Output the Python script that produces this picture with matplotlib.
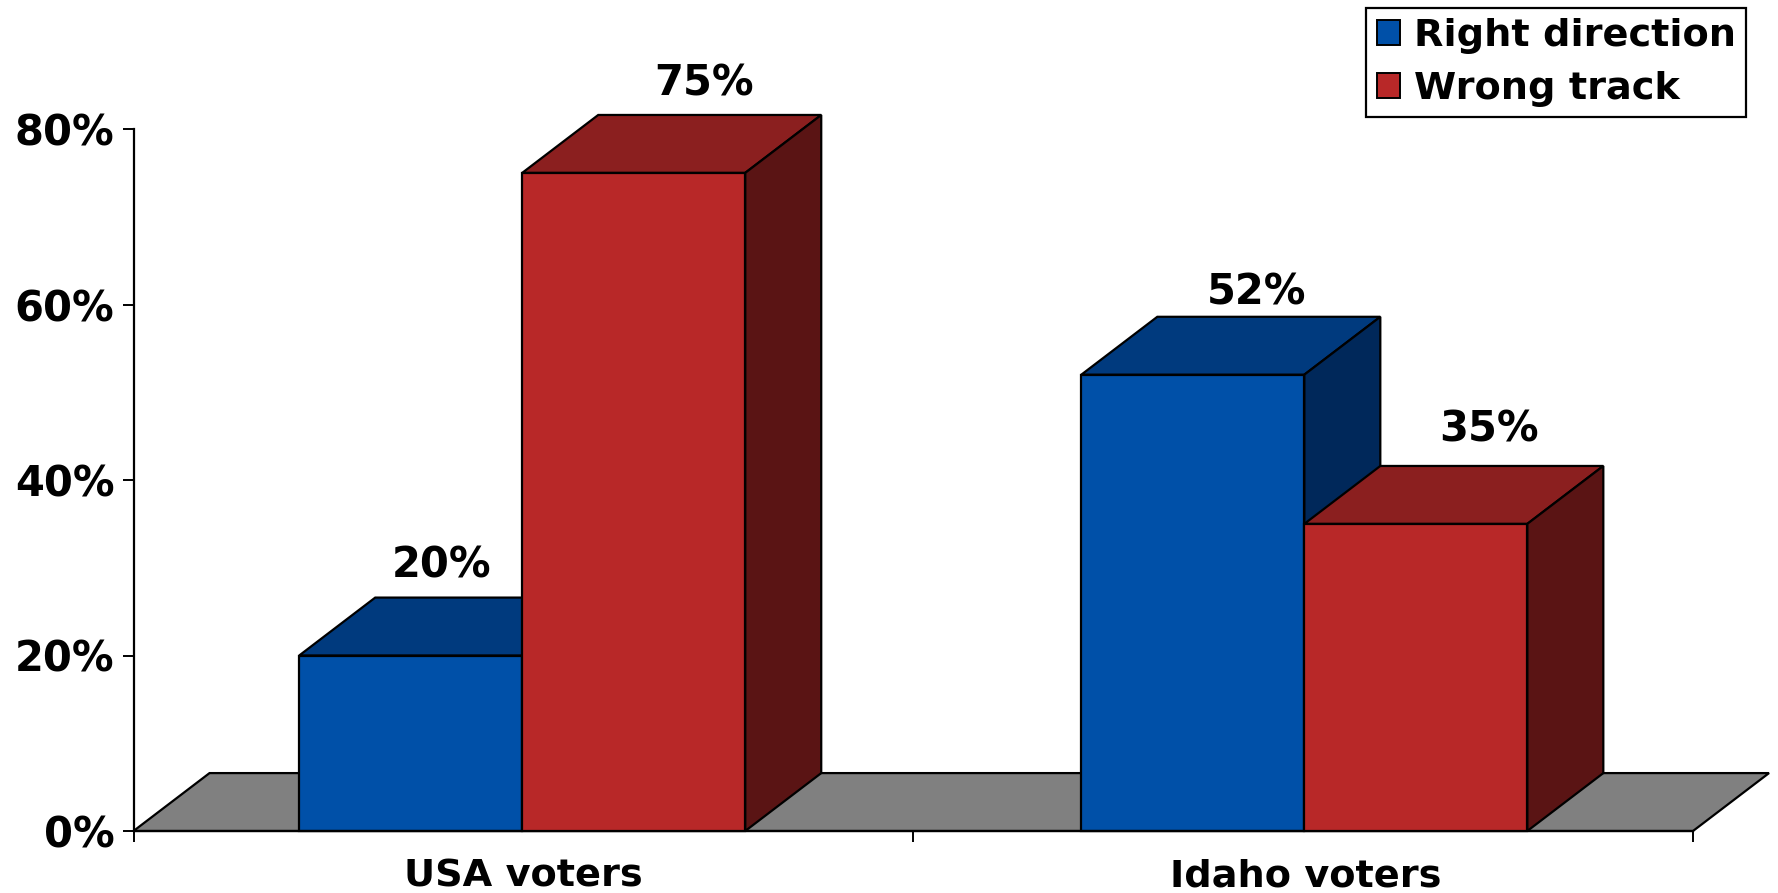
import matplotlib
matplotlib.use('Agg')
import matplotlib.pyplot as plt
from matplotlib.patches import Patch

categories = ['USA voters', 'Idaho voters']
right_direction = [20, 52]
wrong_track = [75, 35]
y_ticks = [0, 20, 40, 60, 80]
y_labels = ['0%', '20%', '40%', '60%', '80%']

BAR_W = 0.286
DX = 0.0975   # depth of the fake 3d, x units
DY = 6.6      # depth, y units
FS = 27.5
PCT_FS = 30   # percent labels are wider in the original

BLUE = ('#0050a8', '#003a7e', '#00285a')
RED = ('#b82828', '#8b1f1f', '#5a1414')
FLOOR = '#808080'

plt.rcParams['font.family'] = ['DejaVu Sans']
plt.rcParams['font.weight'] = 'bold'


def box3d(ax, left, val, cols, z):
    # front, top, side
    ax.bar(left, val, BAR_W, align='edge', color=cols[0], edgecolor='black',
           linewidth=1.6, zorder=z + 0.2, clip_on=False)
    ax.fill([left, left + DX, left + BAR_W + DX, left + BAR_W],
            [val, val + DY, val + DY, val], fc=cols[1], ec='black', lw=1.6,
            zorder=z, clip_on=False)
    ax.fill([left + BAR_W, left + BAR_W + DX, left + BAR_W + DX, left + BAR_W],
            [0, DY, val + DY, val], fc=cols[2], ec='black', lw=1.6,
            zorder=z, clip_on=False)


fig = plt.figure(figsize=(17.78, 8.93), dpi=100)
ax = fig.add_axes([133.5 / 1778, 62 / 893, 1559.5 / 1778, 702 / 893])
ax.set_xlim(0, 2)
ax.set_ylim(0, 80)

ax.fill([0, DX, 2 + DX, 2], [0, DY, DY, 0], fc=FLOOR, ec='black', lw=1.6,
        zorder=1, clip_on=False)

# label offsets from the bar centre / back edge of the top
nudge_x = [[0.04, 0.082], [0.09, 0.094]]
nudge_y = [[3.64, 2.74], [3.64, 4.16]]
centres = [0.4985, 1.5015]
for i in range(len(categories)):
    c = centres[i]
    box3d(ax, c - BAR_W, right_direction[i], BLUE, 2)
    box3d(ax, c, wrong_track[i], RED, 3)
    ax.text(c - BAR_W / 2 + nudge_x[0][i], right_direction[i] + DY + nudge_y[0][i],
            f'{right_direction[i]}%', ha='center', va='center', fontsize=PCT_FS)
    ax.text(c + BAR_W / 2 + nudge_x[1][i], wrong_track[i] + DY + nudge_y[1][i],
            f'{wrong_track[i]}%', ha='center', va='center', fontsize=PCT_FS)

for s in ['top', 'right']:
    ax.spines[s].set_visible(False)
for s in ['left', 'bottom']:
    ax.spines[s].set_linewidth(1.6)

ax.set_yticks(y_ticks)
ax.set_yticklabels(y_labels, fontsize=PCT_FS)
ax.tick_params(axis='y', length=7.7, width=1.4, pad=6)
ax.set_xticks([0, 1, 2])
ax.set_xticklabels([])
ax.tick_params(axis='x', length=7.7, width=1.4)
ax.set_xticks([0.5, 1.503], minor=True)
ax.set_xticklabels(categories, minor=True, fontsize=FS)
ax.tick_params(axis='x', which='minor', length=0, pad=20)

handles = [Patch(fc=BLUE[0], ec='black', lw=1.4), Patch(fc=RED[0], ec='black', lw=1.4)]
leg = fig.legend(handles, ['Right direction', 'Wrong track'], loc='upper right',
                 bbox_to_anchor=(1746 / 1778, 1 - 8 / 893), borderaxespad=0,
                 fontsize=FS, fancybox=False, framealpha=1, edgecolor='black',
                 handlelength=0.62, handleheight=0.62, handletextpad=0.35,
                 labelspacing=0.44, borderpad=0.27, alignment='left')
leg.get_frame().set_linewidth(1.6)
leg.set_zorder(10)

fig.savefig('out.png', dpi=100)
